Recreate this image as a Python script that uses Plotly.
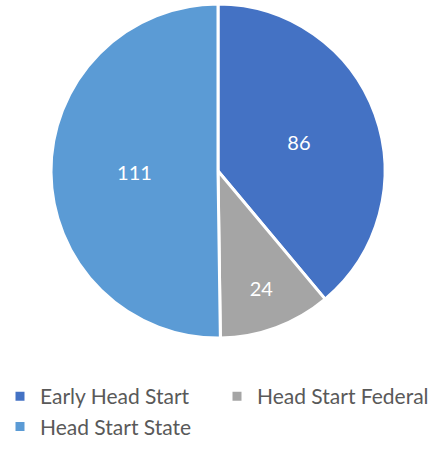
import plotly.graph_objects as go

labels = ["Early Head Start", "Head Start Federal", "Head Start State"]
values = [86, 24, 111]
colors = ["#4472C4", "#A5A5A5", "#5B9BD5"]

W, H = 432, 449
fig = go.Figure()
fig.add_trace(go.Pie(
    labels=labels, values=values, sort=False, direction="clockwise", rotation=0,
    marker=dict(colors=colors, line=dict(color="white", width=3)),
    textinfo="value", textposition="inside", insidetextorientation="horizontal",
    textfont=dict(color="white", size=20, family="Lato"),
    domain=dict(x=[50/W, 386/W], y=[(H-338)/H, (H-4)/H]),
    showlegend=True, hoverinfo="label+value+percent",
))
fig.update_layout(
    width=W, height=H, margin=dict(l=0, r=0, t=0, b=0, autoexpand=False),
    paper_bgcolor="white", plot_bgcolor="white",
    font=dict(family="Lato", size=21, color="#595959"),
    legend=dict(orientation="h", x=0.0, xanchor="left", y=(H-376)/H, yanchor="top",
                entrywidth=172, entrywidthmode="pixels", itemwidth=30,
                font=dict(family="Lato", size=21, color="#595959")),
)
fig.write_html("out.html", config={"displayModeBar": False},
               post_script="document.body.style.margin='0';")
